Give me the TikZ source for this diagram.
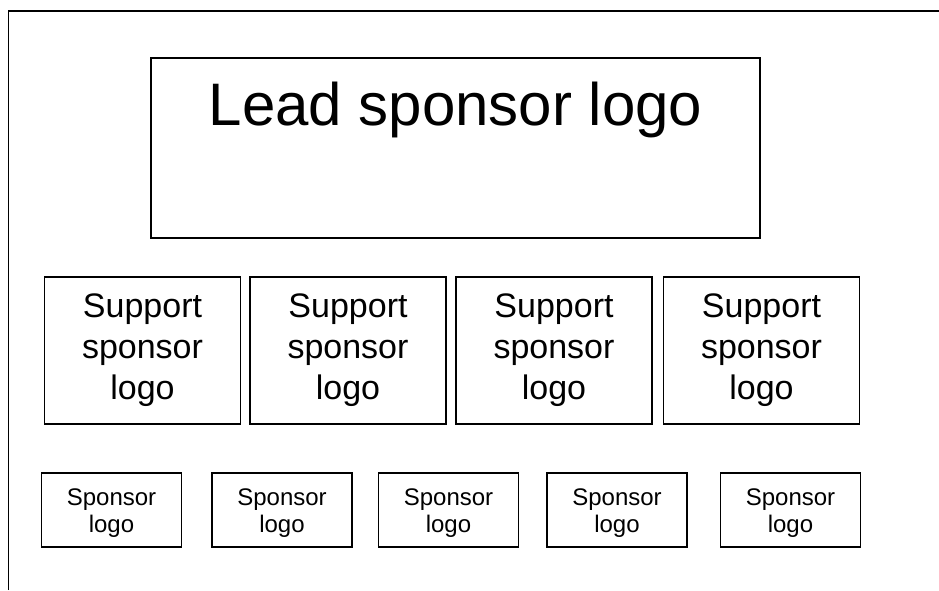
\documentclass[tikz,border=0pt]{standalone}
\usepackage{fontspec}
\setmainfont{Liberation Sans}
\begin{document}
\begin{tikzpicture}[x=1pt,y=-1pt,
  box/.style={draw=black,line width=1.8pt,inner sep=0pt,outer sep=0pt,fill=white},
  leadtext/.style={font=\fontsize{60}{72}\selectfont,inner sep=0pt,anchor=base},
  supbox/.style={box,minimum width=196pt,minimum height=147pt,align=center,font=\fontsize{34}{41}\selectfont},
  smallbox/.style={box,minimum width=140pt,minimum height=74pt},
  smalltext/.style={align=center,inner sep=0pt,font=\fontsize{24}{27}\selectfont},
  frame/.style={draw=black,line width=1.8pt}]
\useasboundingbox[fill=white] (0,0) rectangle (939,590);
\coordinate (fb) at (8.5,590);
\coordinate (fc) at (8.5,11);
\coordinate (fr) at (939,11);
\draw[frame] (fb) -- (fc) -- (fr);
% lead
\node[box,minimum width=609pt,minimum height=180pt] (lead) at (455.5,148) {};
\node[leadtext] (leadt) at (455.5,125) {Lead sponsor logo};
% support
\node[supbox] (s1) at (142.5,350.5) {Support\\sponsor\\logo};
\node[supbox] (s2) at (348,350.5) {Support\\sponsor\\logo};
\node[supbox] (s3) at (554,350.5) {Support\\sponsor\\logo};
\node[supbox] (s4) at (761.5,350.5) {Support\\sponsor\\logo};
% small
\node[smallbox] (p1) at (111.5,510) {};
\node[smallbox] (p2) at (282,510) {};
\node[smallbox] (p3) at (448.5,510) {};
\node[smallbox] (p4) at (617,510) {};
\node[smallbox] (p5) at (790.5,510) {};
\foreach \p in {p1,p2,p3,p4,p5}
  \node[smalltext] (\p t) at ([yshift=-3pt]\p.center) {Sponsor\\logo};
\end{tikzpicture}
\end{document}
